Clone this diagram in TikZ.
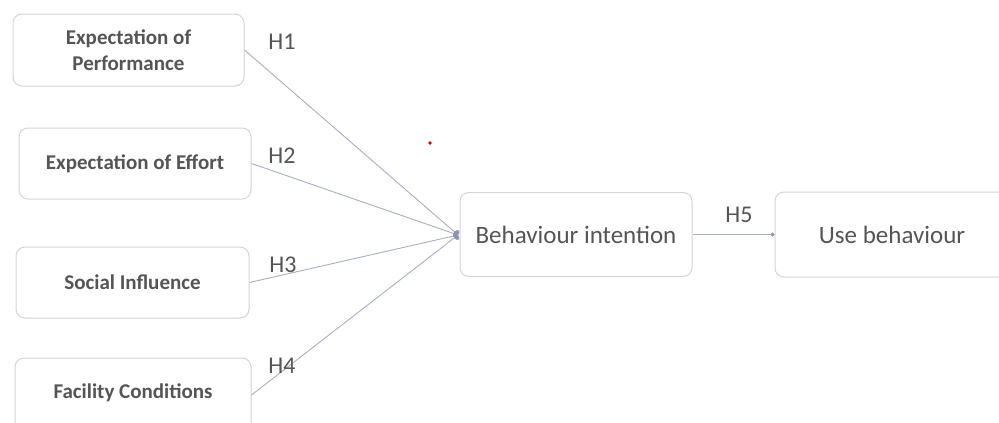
\documentclass[tikz,border=0pt]{standalone}
\usepackage{fontspec}
\setmainfont{Carlito}
\usetikzlibrary{arrows.meta}
\definecolor{txt}{HTML}{555555}
\definecolor{edge}{HTML}{D4D4D4}
\definecolor{conn}{HTML}{A8AFBD}
\definecolor{tipc}{HTML}{8C93B0}
\begin{document}
\begin{tikzpicture}[x=1pt,y=-1pt,
  box/.style={draw=edge,line width=1pt,rounded corners=9pt,fill=white,text=txt,align=center,inner sep=0pt},
  lbox/.style={box,font=\bfseries\fontsize{21}{26}\selectfont},
  rbox/.style={box,font=\fontsize{25}{28}\selectfont},
  conn/.style={draw=conn,line width=0.9pt},
  hlab/.style={text=txt,font=\fontsize{24}{26}\selectfont,inner sep=0pt}]
\useasboundingbox (0,0) rectangle (999,423);
\clip (0,0) rectangle (999,423);
\node[lbox,minimum width=231pt,minimum height=72pt] (ep) at (128.5,50) {Expectation of\\Performance};
\node[lbox,minimum width=232pt,minimum height=71pt] (ee) at (135,163.5) {Expectation of Effort};
\node[lbox,minimum width=233pt,minimum height=71pt] (si) at (132.5,282.5) {Social Influence};
\node[lbox,minimum width=236pt,minimum height=74pt] (fc) at (133,395) {};
\node[text=txt,font=\bfseries\fontsize{21}{26}\selectfont] (fct) at (133,393) {Facility Conditions};
\node[rbox,minimum width=232pt,minimum height=84pt] (bi) at (576,234.5) {Behaviour intention};
\node[rbox,minimum width=234pt,minimum height=85pt] (ub) at (892,234.5) {Use behaviour};
\coordinate (in) at (458,235);
\draw[conn,-{Ellipse[length=4.5pt,width=8pt,fill=tipc,color=tipc]}] (ep.east) -- (in);
\draw[conn,-{Ellipse[length=4.5pt,width=8pt,fill=tipc,color=tipc]}] (ee.east) -- (in);
\draw[conn,-{Ellipse[length=4.5pt,width=8pt,fill=tipc,color=tipc]}] (si.east) -- (in);
\draw[conn,-{Ellipse[length=4.5pt,width=8pt,fill=tipc,color=tipc]}] (fc.east) -- (in);
\draw[conn,-{Ellipse[length=4pt,width=4pt,fill=tipc,color=tipc]}] (bi.east) -- (ub.west);
\node[hlab] (h1) at (282,42) {H1};
\node[hlab] (h2) at (282,156) {H2};
\node[hlab] (h3) at (283,265) {H3};
\node[hlab] (h4) at (282,366) {H4};
\node[hlab] (h5) at (739,215) {H5};
\fill[red!85!black] (430,143) circle (1.8pt);
\end{tikzpicture}
\end{document}
